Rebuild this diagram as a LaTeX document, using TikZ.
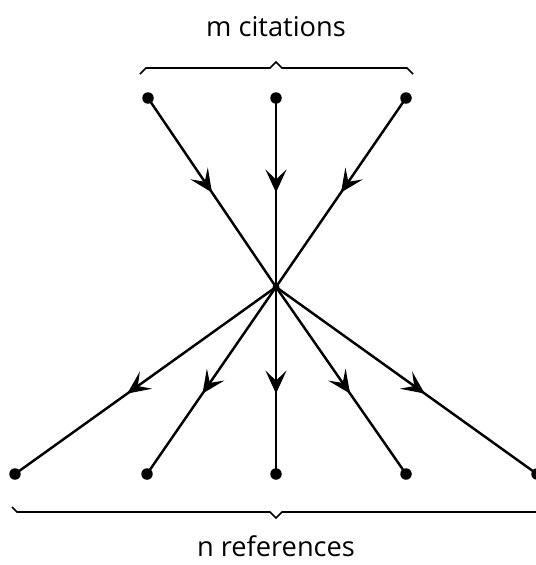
\documentclass[tikz,border=0pt]{standalone}
\usepackage{fontspec}
\setmainfont{Open Sans}
\usetikzlibrary{arrows.meta,decorations.markings}

\begin{document}
\begin{tikzpicture}[x=0.02cm,y=-0.02cm,line width=1.4pt]
  \tikzstyle{dot}=[circle,fill=black,minimum size=2.3mm,inner sep=0pt]
  \tikzstyle{hub}=[circle,fill=black,minimum size=1.4mm,inner sep=0pt]
  \tikzstyle{label}=[font=\fontsize{15.5}{18}\selectfont]
  \tikzstyle{edge}=[postaction={decorate},decoration={markings,
      mark=at position #1 with {\arrow{Stealth[length=4.6mm,width=4.2mm,inset=2mm]}}}]

  \useasboundingbox (0,0) rectangle (536,565);

  \node[hub] (C) at (276,287) {};

  \foreach \name/\x in {M-1/148, M-2/276, M-3/406}
    \node[dot] (\name) at (\x,98) {};

  \foreach \name/\x in {N-1/15, N-2/147, N-3/276, N-4/406, N-5/537}
    \node[dot] (\name) at (\x,474) {};

  \foreach \i in {1,2,3}
    { \draw[edge=0.5] (M-\i.center) -- (C.center); }
  \foreach \i in {1,...,5}
    { \draw[edge=0.57] (C.center) -- (N-\i.center); }

  % braces
  \draw[line width=0.9pt] (140,74) -- (146,68) -- (270,68) -- (276,62) -- (282,68) -- (407,68) -- (413,74);
  \draw[line width=0.9pt] (12,507) -- (17,512) -- (270,512) -- (276,518) -- (282,512) -- (540,512);

  \node[label] (top) at (276,27) {m citations};
  \node[label] (bot) at (276,546) {n references};
\end{tikzpicture}
\end{document}
